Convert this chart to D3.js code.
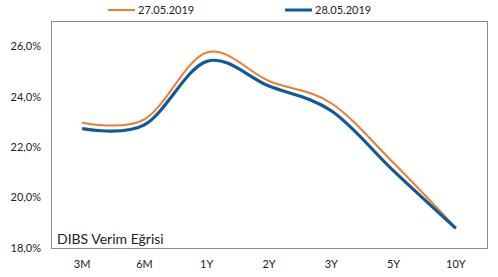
<!DOCTYPE html>
<html>
<head>
<meta charset="utf-8">
<script src="https://cdn.jsdelivr.net/npm/d3@7"></script>
<style>
  body { margin: 0; background: #fff; }
  text { font-family: Lato, "Open Sans", sans-serif; fill: #222; }
</style>
</head>
<body>
<script>
const categories = ["3M", "6M", "1Y", "2Y", "3Y", "5Y", "10Y"];
const series27 = [22.97, 23.1, 25.75, 24.62, 23.74, 21.37, 18.8];
const series28 = [22.73, 22.88, 25.4, 24.42, 23.44, 21.06, 18.78];
const yTicks = [18, 20, 22, 24, 26];
const seriesNames = ["27.05.2019", "28.05.2019"];

const width = 498,
    height = 277,
    margin = { top: 21, right: 11, bottom: 29, left: 51 };

const svg = d3.select("body").append("svg")
    .attr("width", width)
    .attr("height", height);

const x = d3.scaleBand()
    .domain(categories)
    .range([margin.left, width - margin.right]);

const y = d3.scaleLinear()
    .domain([18, 27])
    .range([height - margin.bottom, margin.top]);

// plot frame
svg.append("rect")
    .attr("x", margin.left + 0.5)
    .attr("y", margin.top + 0.5)
    .attr("width", width - margin.left - margin.right)
    .attr("height", height - margin.top - margin.bottom)
    .attr("fill", "none")
    .attr("stroke", "#8c8c8c")
    .attr("stroke-width", 1);

// y labels
svg.append("g")
    .selectAll("text")
    .data(yTicks)
    .enter().append("text")
    .attr("x", 41)
    .attr("y", d => y(d))
    .attr("dy", "0.35em")
    .attr("text-anchor", "end")
    .style("font-size", "11px")
    .text(d => d3.format(".1f")(d).replace(".", ",") + "%");

// x labels
svg.append("g")
    .selectAll("text")
    .data(categories)
    .enter().append("text")
    .attr("x", d => x(d) + x.bandwidth() / 2)
    .attr("y", 268)
    .attr("text-anchor", "middle")
    .style("font-size", "11px")
    .text(d => d);

const line = d3.line()
    .x((d, i) => x(categories[i]) + x.bandwidth() / 2)
    .y(d => y(d))
    .curve(d3.curveCatmullRom.alpha(0));

svg.append("path")
    .datum(series27)
    .attr("d", line)
    .attr("fill", "none")
    .attr("stroke", "#f47b2a")
    .attr("stroke-width", 2);

svg.append("path")
    .datum(series28)
    .attr("d", line)
    .attr("fill", "none")
    .attr("stroke", "#0e5a9a")
    .attr("stroke-width", 3.2);

// legend
const legend = [
    { name: seriesNames[0], color: "#f47b2a", w: 2, x: 108 },
    { name: seriesNames[1], color: "#0e5a9a", w: 3, x: 285 }
];
const lg = svg.append("g").selectAll("g")
    .data(legend)
    .enter().append("g")
    .attr("transform", d => `translate(${d.x}, 10)`);

lg.append("line")
    .attr("x1", 0).attr("x2", 27)
    .attr("stroke", d => d.color)
    .attr("stroke-width", d => d.w);

lg.append("text")
    .attr("x", 30)
    .attr("dy", "0.35em")
    .style("font-size", "11px")
    .text(d => d.name);

// title inside plot
svg.append("text")
    .attr("x", 57)
    .attr("y", 244)
    .style("font-size", "14px")
    .text("DIBS Verim Eğrisi");
</script>
</body>
</html>
